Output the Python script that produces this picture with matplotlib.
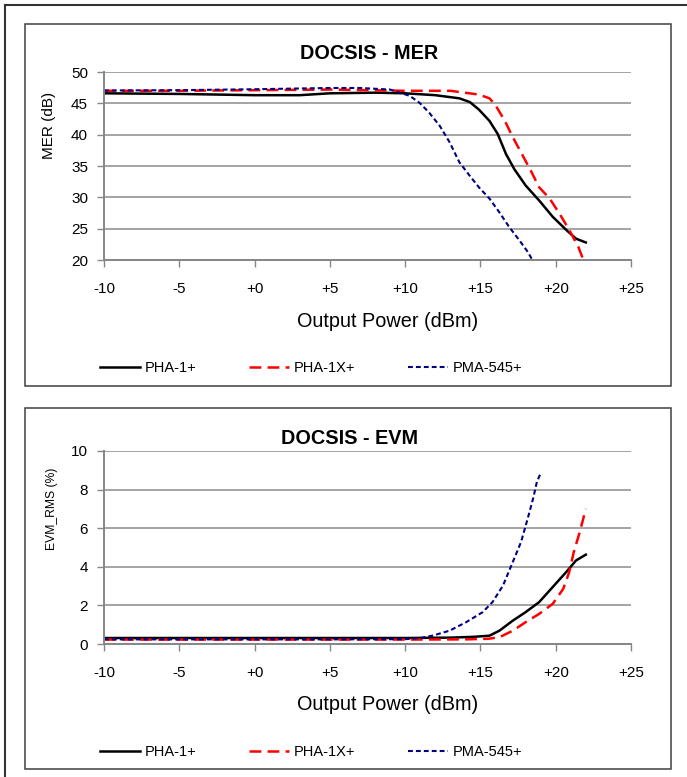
import matplotlib
matplotlib.use("Agg")
import matplotlib.pyplot as plt
from matplotlib.patches import Rectangle
from matplotlib.lines import Line2D

plt.rcParams['font.family'] = ['Liberation Sans', 'DejaVu Sans']
plt.rcParams['lines.scale_dashes'] = False

W, H = 687, 777  # canvas size in px (dpi 100)

"""
DOCSIS MER (dB) vs output power (dBm)
"""
mer_x_pha1 = [-10, -5, 0, 3, 5, 8, 10, 12, 13.6, 14.3, 14.9, 15.6, 16.15, 16.7, 17.25, 18, 18.9, 19.8, 20.7, 21.35, 22]
mer_y_pha1 = [46.6, 46.5, 46.3, 46.3, 46.6, 46.7, 46.6, 46.3, 45.8, 45.2, 44.0, 42.2, 40.1, 36.9, 34.5, 31.9, 29.5, 26.9, 24.8, 23.4, 22.8]

mer_x_pha1x = [-10, -5, 0, 5, 10, 13, 14.9, 15.6, 16.0, 16.6, 17.15, 17.8, 18.4, 18.9, 19.6, 20.25, 20.9, 21.5, 22]
mer_y_pha1x = [47.0, 47.0, 47.1, 47.2, 47.0, 47.0, 46.4, 45.8, 44.7, 42.3, 39.6, 36.7, 34.0, 31.6, 29.8, 27.4, 24.8, 22.1, 19.0]

mer_x_pma545 = [-10, -5, 0, 5, 7, 9, 10.3, 10.95, 11.6, 12.3, 12.95, 13.6, 14.27, 14.9, 15.6, 16.26, 16.9, 17.6, 18.14, 18.5]
mer_y_pma545 = [47.05, 47.1, 47.25, 47.45, 47.45, 47.2, 46.2, 45.1, 43.5, 41.4, 38.8, 35.6, 33.5, 31.6, 29.8, 27.6, 25.3, 23.1, 21.3, 19.8]

"""
DOCSIS EVM_RMS (%) vs output power (dBm)
"""
evm_x_pha1 = [-10, -5, 0, 5, 10, 13, 14.5, 15.6, 16.26, 17.15, 18.0, 18.9, 19.8, 20.7, 21.35, 22]
evm_y_pha1 = [0.31, 0.31, 0.31, 0.31, 0.31, 0.33, 0.37, 0.43, 0.69, 1.21, 1.65, 2.17, 2.95, 3.73, 4.33, 4.63]

evm_x_pha1x = [-10, -5, 0, 5, 10, 14, 15.5, 16.26, 17.15, 18.0, 18.9, 19.8, 20.5, 20.9, 21.2, 21.6, 22]
evm_y_pha1x = [0.23, 0.23, 0.23, 0.23, 0.23, 0.24, 0.27, 0.35, 0.69, 1.13, 1.56, 2.08, 2.86, 3.73, 4.77, 5.81, 7.0]

evm_x_pma545 = [-10, -5, 0, 5, 10, 10.95, 11.8, 12.95, 14.05, 15.15, 15.8, 16.5, 17.15, 17.7, 18.14, 18.5, 18.75, 19.0]
evm_y_pma545 = [0.24, 0.24, 0.24, 0.24, 0.25, 0.3, 0.43, 0.69, 1.13, 1.65, 2.17, 3.03, 4.25, 5.29, 6.5, 7.54, 8.4, 8.85]

series_names = ["PHA-1+", "PHA-1X+", "PMA-545+"]
x_ticks = [-10, -5, 0, 5, 10, 15, 20, 25]
x_tick_labels = ["-10", "-5", "+0", "+5", "+10", "+15", "+20", "+25"]

styles = [dict(color="black", lw=1.8, ls="-"),
          dict(color="#FF0000", lw=1.8, dashes=(8.5, 4.5)),
          dict(color="#000080", lw=1.5, dashes=(3.5, 2.2))]


def fx(x):
    return x / W


def fy(y):
    return 1 - y / H


def draw_panel(fig, box, area, data, ylim, ystep, title, title_xy, ylabel, ylabel_xy, ylabel_size, xlabel_y, legend_y):
    # outer chart frame
    x0, y0, x1, y1 = box
    fig.add_artist(Rectangle((fx(x0), fy(y1)), fx(x1 - x0), (y1 - y0) / H, fill=False,
                             edgecolor="#404040", lw=1.1, transform=fig.transFigure))
    # plot area
    l, t, r, b = area
    ax = fig.add_axes([fx(l), fy(b), fx(r - l), (b - t) / H])
    for (xs, ys), st in zip(data, styles):
        ax.plot(xs, ys, solid_joinstyle="round", **st)

    ax.set_xlim(-10, 25)
    ax.set_ylim(*ylim)
    ax.set_xticks(x_ticks)
    ax.set_xticklabels(x_tick_labels)
    ax.set_yticks(range(ylim[0], ylim[1] + 1, ystep))
    ax.yaxis.grid(True, color="#8c8c8c", lw=1.1)
    ax.set_axisbelow(True)
    for s in ["top", "right"]:
        ax.spines[s].set_visible(False)
    for s in ["left", "bottom"]:
        ax.spines[s].set_color("#868686")
        ax.spines[s].set_linewidth(1.4)
    ax.tick_params(axis="x", direction="out", length=5, width=1, color="#868686", pad=11, labelsize=11)
    ax.tick_params(axis="y", direction="out", length=5, width=1, color="#868686", pad=6.5, labelsize=11)

    fig.text(fx(title_xy[0]), fy(title_xy[1]), title, ha="center", va="center", fontsize=14.3, fontweight="bold")
    fig.text(fx(ylabel_xy[0]), fy(ylabel_xy[1]), ylabel, ha="center", va="center", rotation=90, fontsize=ylabel_size)
    fig.text(fx(388), fy(xlabel_y), "Output Power (dBm)", ha="center", va="center", fontsize=14.3)

    ax.legend(ax.get_lines(), series_names, loc="center left", bbox_to_anchor=(fx(100), fy(legend_y)),
              bbox_transform=fig.transFigure, ncol=3, frameon=False, handlelength=2.74, handletextpad=0.34,
              columnspacing=3.6, borderpad=0, borderaxespad=0, fontsize=10.5)
    return ax


fig = plt.figure(figsize=(W / 100, H / 100), dpi=100)

# page border (left and top only)
fig.add_artist(Line2D([fx(4.5), fx(4.5)], [fy(5), 0], color="#333333", lw=1.5, transform=fig.transFigure))
fig.add_artist(Line2D([fx(4.5), 1], [fy(5), fy(5)], color="#333333", lw=1.5, transform=fig.transFigure))

draw_panel(fig, (25, 24, 671, 386), (104, 72, 631, 260),
           [(mer_x_pha1, mer_y_pha1), (mer_x_pha1x, mer_y_pha1x), (mer_x_pma545, mer_y_pma545)],
           (20, 50), 5, "DOCSIS - MER", (369, 53.5), "MER (dB)", (49, 125), 11, 321, 368)

draw_panel(fig, (25, 408, 671, 769), (104, 451, 631, 644),
           [(evm_x_pha1, evm_y_pha1), (evm_x_pha1x, evm_y_pha1x), (evm_x_pma545, evm_y_pma545)],
           (0, 10), 2, "DOCSIS - EVM", (349.5, 438), "EVM_RMS (%)", (51.5, 508.5), 8.7, 704, 752.5)

fig.savefig("out.png", dpi=100)
